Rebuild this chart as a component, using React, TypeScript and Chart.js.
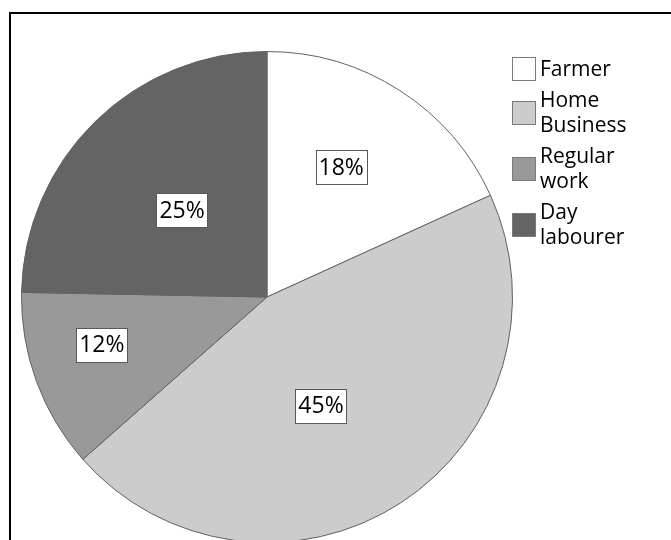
import React, { useEffect, useRef } from "react";
import { Chart, registerables } from "chart.js";

Chart.register(...registerables);

const categories: string[][] = [["Farmer"], ["Home", "Business"], ["Regular", "work"], ["Day", "labourer"]];
const shares: number[] = [18.2, 45.3, 11.8, 24.7];
const sliceColors: string[] = ["#ffffff", "#cccccc", "#999999", "#646464"];

// label placement style: angle shift (deg) and fraction of radius
const labelAngleShift: number[] = [-3.0, 6.5, 4.1, 0];
const labelRadiusFrac: number[] = [0.609, 0.494, 0.7, 0.494];

const FONT = "'Open Sans', 'Liberation Sans', sans-serif";

const decorPlugin = {
  id: "decor",
  beforeDraw(chart: any) {
    const ctx = chart.ctx;
    ctx.save();
    ctx.fillStyle = "#ffffff";
    ctx.fillRect(0, 0, chart.width, chart.height);
    ctx.restore();
  },
  afterDatasetsDraw(chart: any) {
    const ctx = chart.ctx;
    const meta = chart.getDatasetMeta(0);
    const data = chart.data.datasets[0].data;
    ctx.save();
    // percentage labels
    ctx.font = `23px ${FONT}`;
    ctx.textAlign = "center";
    ctx.textBaseline = "middle";
    meta.data.forEach((arc: any, i: number) => {
      const p = arc.getProps(["x", "y", "startAngle", "endAngle", "outerRadius"], true);
      const mid = (p.startAngle + p.endAngle) / 2 + (labelAngleShift[i] * Math.PI) / 180;
      const r = p.outerRadius * labelRadiusFrac[i];
      const cx = p.x + Math.cos(mid) * r;
      const cy = p.y + Math.sin(mid) * r;
      const txt = `${Math.round(data[i])}%`;
      const w = ctx.measureText(txt).width + 6;
      const h = 34;
      ctx.fillStyle = "#ffffff";
      ctx.fillRect(Math.round(cx - w / 2) + 0.5, Math.round(cy - h / 2) + 0.5, Math.round(w), h);
      ctx.strokeStyle = "#595959";
      ctx.lineWidth = 1;
      ctx.strokeRect(Math.round(cx - w / 2) + 0.5, Math.round(cy - h / 2) + 0.5, Math.round(w), h);
      ctx.fillStyle = "#000000";
      ctx.fillText(txt, cx, cy + 1);
    });

    // legend
    const labels = chart.data.labels as string[][];
    const colors = chart.data.datasets[0].backgroundColor as string[];
    const lineH = 25;
    const gap = 6;
    const textX = 540;
    const boxX = 512;
    const box = 23;
    const capH = 15;
    let baseline = 76;
    ctx.font = `21px ${FONT}`;
    ctx.textAlign = "left";
    ctx.textBaseline = "alphabetic";
    labels.forEach((lines: string[], i: number) => {
      const top = baseline - capH;
      const last = baseline + (lines.length - 1) * lineH;
      const centerY = (top + last) / 2;
      const by = Math.round(centerY - box / 2);
      ctx.fillStyle = colors[i];
      ctx.fillRect(boxX + 0.5, by + 0.5, box, box);
      ctx.strokeStyle = "#7a7a7a";
      ctx.lineWidth = 1;
      ctx.strokeRect(boxX + 0.5, by + 0.5, box, box);
      ctx.fillStyle = "#000000";
      lines.forEach((ln: string, j: number) => {
        ctx.fillText(ln, textX, baseline + j * lineH);
      });
      baseline = last + lineH + gap;
    });

    // frame
    ctx.strokeStyle = "#000000";
    ctx.lineWidth = 2;
    ctx.beginPath();
    ctx.moveTo(10, chart.height + 5);
    ctx.lineTo(10, 13);
    ctx.lineTo(chart.width + 5, 13);
    ctx.stroke();
    ctx.restore();
  },
};

export default function App() {
  const ref = useRef<HTMLCanvasElement | null>(null);
  useEffect(() => {
    if (!ref.current) return;
    const chart = new Chart(ref.current, {
      type: "pie",
      data: {
        labels: categories,
        datasets: [
          {
            data: shares,
            backgroundColor: sliceColors,
            borderColor: "#626262",
            borderWidth: 1,
          },
        ],
      },
      options: {
        responsive: false,
        animation: false,
        devicePixelRatio: 1,
        layout: { padding: { left: 21, right: 158, top: 50, bottom: 16 } },
        plugins: {
          legend: { display: false },
          tooltip: { enabled: false },
        },
      },
      plugins: [decorPlugin],
    });
    return () => chart.destroy();
  }, []);
  return (
    <div style={{ position: "absolute", left: 0, top: 0, width: 671, height: 540, overflow: "hidden", background: "#fff" }}>
      <canvas ref={ref} width={671} height={560} style={{ display: "block" }} />
    </div>
  );
}
